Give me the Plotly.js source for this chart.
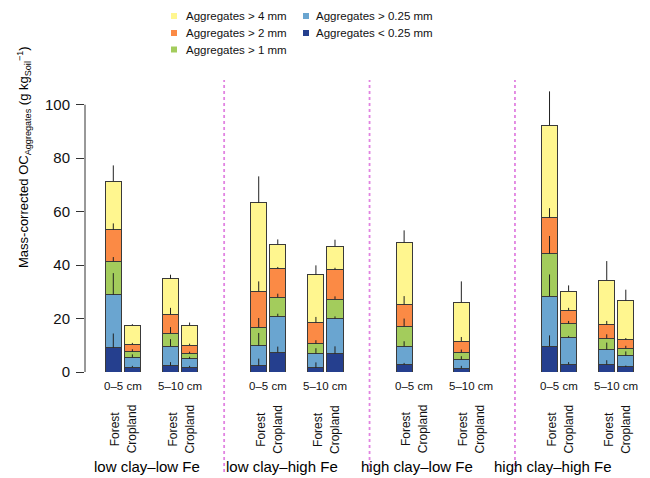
<!DOCTYPE html>
<html><head><meta charset="utf-8">
<script src="https://cdn.plot.ly/plotly-3.0.1.min.js"></script>
<style>html,body{margin:0;padding:0;background:#fff}</style>
</head><body><div id="chart" style="width:650px;height:478px"></div>
<script>
// ---------- DATA ----------
const groups = ['low clay–low Fe', 'low clay–high Fe', 'high clay–low Fe', 'high clay–high Fe'];
const depths = ['0–5 cm', '5–10 cm'];
const landUses = ['Forest', 'Cropland'];
const fractionNames = ['Aggregates < 0.25 mm', 'Aggregates > 0.25 mm', 'Aggregates > 1 mm', 'Aggregates > 2 mm', 'Aggregates > 4 mm'];
// bar order within each group: Forest 0–5, Cropland 0–5, Forest 5–10, Cropland 5–10
const ocLt025 = [9.1, 1.8, 2.4, 1.8,   2.4, 7.4, 1.6, 6.9,    2.8, null, 1.4, null,   9.7, 2.9, 2.8, 1.9];
const ocGt025 = [19.8, 3.7, 7.3, 3.1,  7.5, 13.5, 5.3, 13.1,  6.9, null, 3.3, null,   18.7, 10.1, 5.6, 4.2];
const ocGt1   = [12.5, 2.1, 4.8, 2.0,  6.8, 7.1, 3.7, 7.3,    7.4, null, 2.6, null,   15.9, 5.1, 4.1, 2.7];
const ocGt2   = [11.8, 2.8, 7.1, 3.2,  13.5, 10.7, 7.9, 11.0, 8.2, null, 4.3, null,   13.4, 5.0, 5.2, 3.3];
const ocGt4   = [18.2, 7.1, 13.3, 7.4, 33.1, 9.1, 17.9, 8.8,  23.1, null, 14.4, null, 34.6, 7.2, 16.7, 14.6];
const errLt025 = [5.3, 0.5, 1.3, 0.5,  2.6, 2.1, 2.0, 2.7,  0.6, null, 0.9, null,  4.0, 0.8, 1.6, 0.5];
const errGt025 = [8.1, 1.1, 2.6, 0.8,  4.7, 0.9, 2.0, 0.8,  1.8, null, 1.2, null,  8.1, 0.5, 2.6, 1.6];
const errGt1   = [1.6, 0.9, 2.3, 0.7,  3.5, 1.3, 1.3, 1.0,  2.9, null, 1.1, null,  6.6, 1.0, 1.6, 1.0];
const errGt2   = [2.4, 0.5, 2.4, 0.5,  3.7, 0.6, 2.1, 0.7,  3.1, null, 1.5, null,  3.6, 0.9, 1.4, 0.6];
const errGt4   = [5.9, 0.4, 1.5, 1.0,  9.9, 1.8, 3.5, 2.4,  4.6, null, 7.9, null,  12.7, 2.1, 7.1, 4.1];
const yTicks = [0, 20, 40, 60, 80, 100];

// ---------- STYLE / LAYOUT CONSTANTS ----------
const colors = ['#253f8e', '#6aa5d0', '#a3cc5c', '#fb8a45', '#fff68f'];
const slotOffsets = [0, 1, 3, 4];
const groupStep = 7.625;
const barWidth = 0.84;
const FONT = 'Liberation Sans, Arial, sans-serif';

const values = [ocLt025, ocGt025, ocGt1, ocGt2, ocGt4];
const errors = [errLt025, errGt025, errGt1, errGt2, errGt4];

const xPos = [];
groups.forEach((g, gi) => slotOffsets.forEach(o => xPos.push(gi * groupStep + o)));

const traces = [];
values.forEach((vals, k) => {
  traces.push({
    type: 'bar', x: xPos, y: vals, width: barWidth, name: fractionNames[k],
    marker: {color: colors[k], line: {color: '#3a3a3a', width: 1}},
    showlegend: false, hoverinfo: 'skip'
  });
});
// cumulative tops for error bars (drawn above all bars)
const cum = xPos.map(() => 0);
values.forEach((vals, k) => {
  const tops = vals.map((v, i) => { if (v == null) return null; cum[i] += v; return cum[i]; });
  traces.push({
    type: 'scatter', mode: 'markers', x: xPos, y: tops, name: fractionNames[k] + ' error',
    marker: {size: 1, color: 'rgba(0,0,0,0)'},
    error_y: {type: 'data', symmetric: false, array: errors[k], arrayminus: errors[k].map(() => 0),
              width: 0, thickness: 1, color: '#222'},
    showlegend: false, hoverinfo: 'skip'
  });
});

const W = 650, H = 478, L = 85, R = 10, T = 78, B = 106;
const pw = W - L - R, ph = H - T - B;
const px2paperX = px => (px - L) / pw;
const px2paperY = py => (H - B - py) / ph;

const annotations = [];
const shapes = [];

// y-axis line 0..100
shapes.push({type: 'line', xref: 'paper', yref: 'y', x0: 0, x1: 0, y0: 0, y1: 100, line: {color: '#333', width: 1}});

// group separators
for (let gi = 0; gi < groups.length - 1; gi++) {
  const xs = (slotOffsets[3] + groupStep) / 2 + gi * groupStep;
  shapes.push({type: 'line', xref: 'x', yref: 'paper', x0: xs, x1: xs, y0: px2paperY(472), y1: px2paperY(80),
               line: {color: '#e184e1', width: 1.8, dash: 'dot'}});
}

// bar labels
groups.forEach((g, gi) => {
  depths.forEach((d, di) => {
    const base = gi * groupStep + slotOffsets[di * 2];
    annotations.push({xref: 'x', yref: 'paper', x: base + 0.5, y: px2paperY(386), text: d, showarrow: false,
                      font: {family: FONT, size: 11.5, color: '#111'}, xanchor: 'center', yanchor: 'middle'});
    landUses.forEach((lu, li) => {
      annotations.push({xref: 'x', yref: 'paper', x: base + li, y: px2paperY(429), text: lu, showarrow: false,
                        textangle: -90, xshift: li === 0 ? 2 : 0,
                        font: {family: FONT, size: 12, color: '#111'}, xanchor: 'center', yanchor: 'middle'});
    });
  });
  annotations.push({xref: 'x', yref: 'paper', x: 1.75 + gi * 7.1, y: px2paperY(466), text: g, showarrow: false,
                    font: {family: FONT, size: 15, color: '#000'}, xanchor: 'center', yanchor: 'middle'});
});

// y title
annotations.push({xref: 'paper', yref: 'paper', x: px2paperX(24), y: px2paperY(157), textangle: -90,
  text: 'Mass-corrected OC<sub>Aggregates</sub> (g kg<sub>Soil</sub><sup>−1</sup>)', showarrow: false,
  font: {family: FONT, size: 13, color: '#000'}, xanchor: 'center', yanchor: 'middle'});

// manual legend (two columns)
const legendItems = [
  {k: 4, sx: 174, tx: 184, y: 16}, {k: 3, sx: 174, tx: 184, y: 33}, {k: 2, sx: 174, tx: 184, y: 49.5},
  {k: 1, sx: 306, tx: 314, y: 16}, {k: 0, sx: 306, tx: 314, y: 33}
];
legendItems.forEach(it => {
  shapes.push({type: 'rect', xref: 'paper', yref: 'paper', xsizemode: 'pixel', ysizemode: 'pixel',
               xanchor: px2paperX(it.sx), yanchor: px2paperY(it.y), x0: -3, x1: 3, y0: -3, y1: 3,
               fillcolor: colors[it.k], line: {width: 0}});
  annotations.push({xref: 'paper', yref: 'paper', x: px2paperX(it.tx), y: px2paperY(it.y), text: fractionNames[it.k],
                    showarrow: false, xanchor: 'left', yanchor: 'middle',
                    font: {family: FONT, size: 11.5, color: '#111'}});
});

const layout = {
  width: W, height: H, margin: {l: L, r: R, t: T, b: B, pad: 0},
  paper_bgcolor: '#fff', plot_bgcolor: '#fff',
  barmode: 'stack', showlegend: false,
  xaxis: {range: [-(113.3 - L) / 19.07, -(113.3 - L) / 19.07 + pw / 19.07], showgrid: false, zeroline: false,
          showline: false, showticklabels: false, ticks: '', fixedrange: true},
  yaxis: {range: [0, 110], tickvals: yTicks, ticktext: yTicks.map(String), showgrid: false, zeroline: false,
          showline: false, ticks: 'outside', ticklen: 8, tickwidth: 1, tickcolor: '#333',
          ticklabelstandoff: 3, tickfont: {family: FONT, size: 15, color: '#111'}, fixedrange: true},
  shapes: shapes, annotations: annotations,
  font: {family: FONT}
};

Plotly.newPlot('chart', traces, layout, {displayModeBar: false, staticPlot: true});
</script>
</body></html>
